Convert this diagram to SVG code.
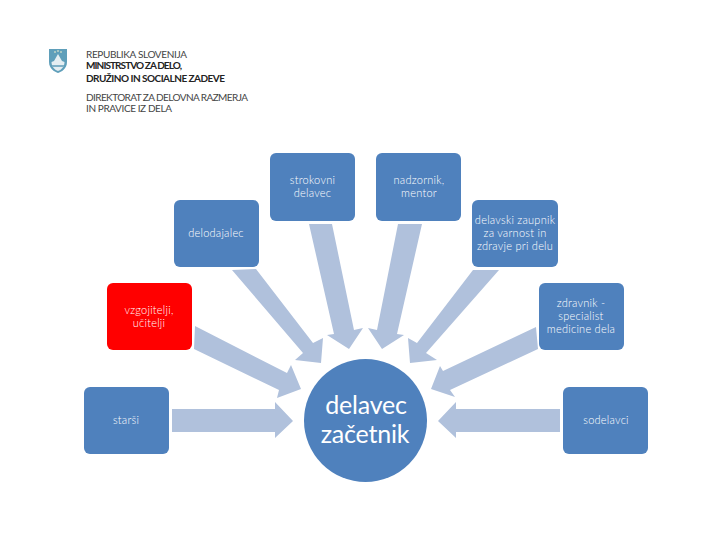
<svg xmlns="http://www.w3.org/2000/svg" width="720" height="540" viewBox="0 0 720 540">
<style>
.box{fill:#4f81bd}
.red{fill:#ff0000}
.arrow{fill:#b0c1dc}
.t{font-family:Lato,"Noto Sans",sans-serif;font-size:11px;font-weight:300;fill:#fff;text-anchor:middle;letter-spacing:.25px}
.big{font-family:Lato,"Noto Sans",sans-serif;font-size:25px;fill:#fff;text-anchor:middle;letter-spacing:-.2px}
.h{font-family:Lato,"Liberation Sans",sans-serif;font-size:10px;fill:#444}
.hb{font-family:Lato,"Liberation Sans",sans-serif;font-size:10px;fill:#222;font-weight:700}
</style>
<rect width="720" height="540" fill="#fff"/>
<g id="header">
<path d="M49 49H67V62C67 69 61 72 58 73C55 72 49 69 49 62Z" fill="#5f9fba"/>
<path d="M51.500 62L54 61L58 54L62 61L64.500 62C64.500 67 61 70 58 71C55 70 51.500 67 51.500 62Z" fill="#e4eef2"/>
<path d="M52 65H64V67H52Z" fill="#7fb0c6"/>
<circle cx="55" cy="52" r=".8" fill="#fff8d0"/><circle cx="61" cy="52" r=".8" fill="#fff8d0"/><circle cx="58" cy="51" r=".8" fill="#fff8d0"/>
<text class="h" x="86" y="58" textLength="101">REPUBLIKA SLOVENIJA</text>
<text class="hb" x="86" y="69" textLength="96">MINISTRSTVO ZA DELO,</text>
<text class="hb" x="86" y="82" textLength="139">DRUŽINO IN SOCIALNE ZADEVE</text>
<text class="h" x="86" y="101" textLength="162">DIREKTORAT ZA DELOVNA RAZMERJA</text>
<text class="h" x="86" y="112" textLength="86">IN PRAVICE IZ DELA</text>
</g>
<g id="connectors" class="arrow">
<polygon points="172,409 275,409 275,402 293,421 275,438 275,432 172,432"/>
<polygon points="195,326 287,373 291,365 301,389 277,398 279,390 194,349"/>
<polygon points="232,270 256,269 313,343 323,338 321,363 295,360 303,353"/>
<polygon points="309,224 332,224 354,330 363,328 349,349 327,335 334,334"/>
<polygon points="398,224 422,224 397,334 404,335 382,349 368,328 377,330"/>
<polygon points="473,270 499,270 426,353 437,360 410,363 408,338 417,343"/>
<polygon points="536,327 538,349 450,390 455,397 431,389 440,366 443,371"/>
<polygon points="560,409 560,432 456,432 456,438 438,421 456,402 456,409"/>
</g>
<g id="node-starsi"><rect class="box" x="84" y="387" width="85" height="67" rx="6"/><text class="t" x="126" y="424">starši</text></g>
<g id="node-vzgojitelji"><rect class="red" x="107" y="283" width="85" height="67" rx="6"/><text class="t" x="149" y="314">vzgojitelji,</text><text class="t" x="149" y="327">učitelji</text></g>
<g id="node-delodajalec"><rect class="box" x="174" y="200" width="85" height="67" rx="6"/><text class="t" x="216" y="237">delodajalec</text></g>
<g id="node-strokovni"><rect class="box" x="270" y="153" width="85" height="68" rx="6"/><text class="t" x="312.500" y="184">strokovni</text><text class="t" x="312.500" y="197">delavec</text></g>
<g id="node-nadzornik"><rect class="box" x="376" y="153" width="85" height="68" rx="6"/><text class="t" x="419" y="184">nadzornik,</text><text class="t" x="419" y="197">mentor</text></g>
<g id="node-zaupnik"><rect class="box" x="472" y="200" width="86" height="67" rx="6"/><text class="t" x="515" y="224">delavski zaupnik</text><text class="t" x="515" y="237">za varnost in</text><text class="t" x="515" y="250">zdravje pri delu</text></g>
<g id="node-zdravnik"><rect class="box" x="539" y="283" width="85" height="67" rx="6"/><text class="t" x="581" y="307">zdravnik -</text><text class="t" x="581" y="320">specialist</text><text class="t" x="581" y="333">medicine dela</text></g>
<g id="node-sodelavci"><rect class="box" x="563" y="387" width="85" height="67" rx="6"/><text class="t" x="606" y="424">sodelavci</text></g>
<g id="node-zacetnik"><circle class="box" cx="365.500" cy="420.500" r="61.500"/><text class="big" x="366" y="414">delavec</text><text class="big" x="365" y="443">začetnik</text></g>
</svg>
